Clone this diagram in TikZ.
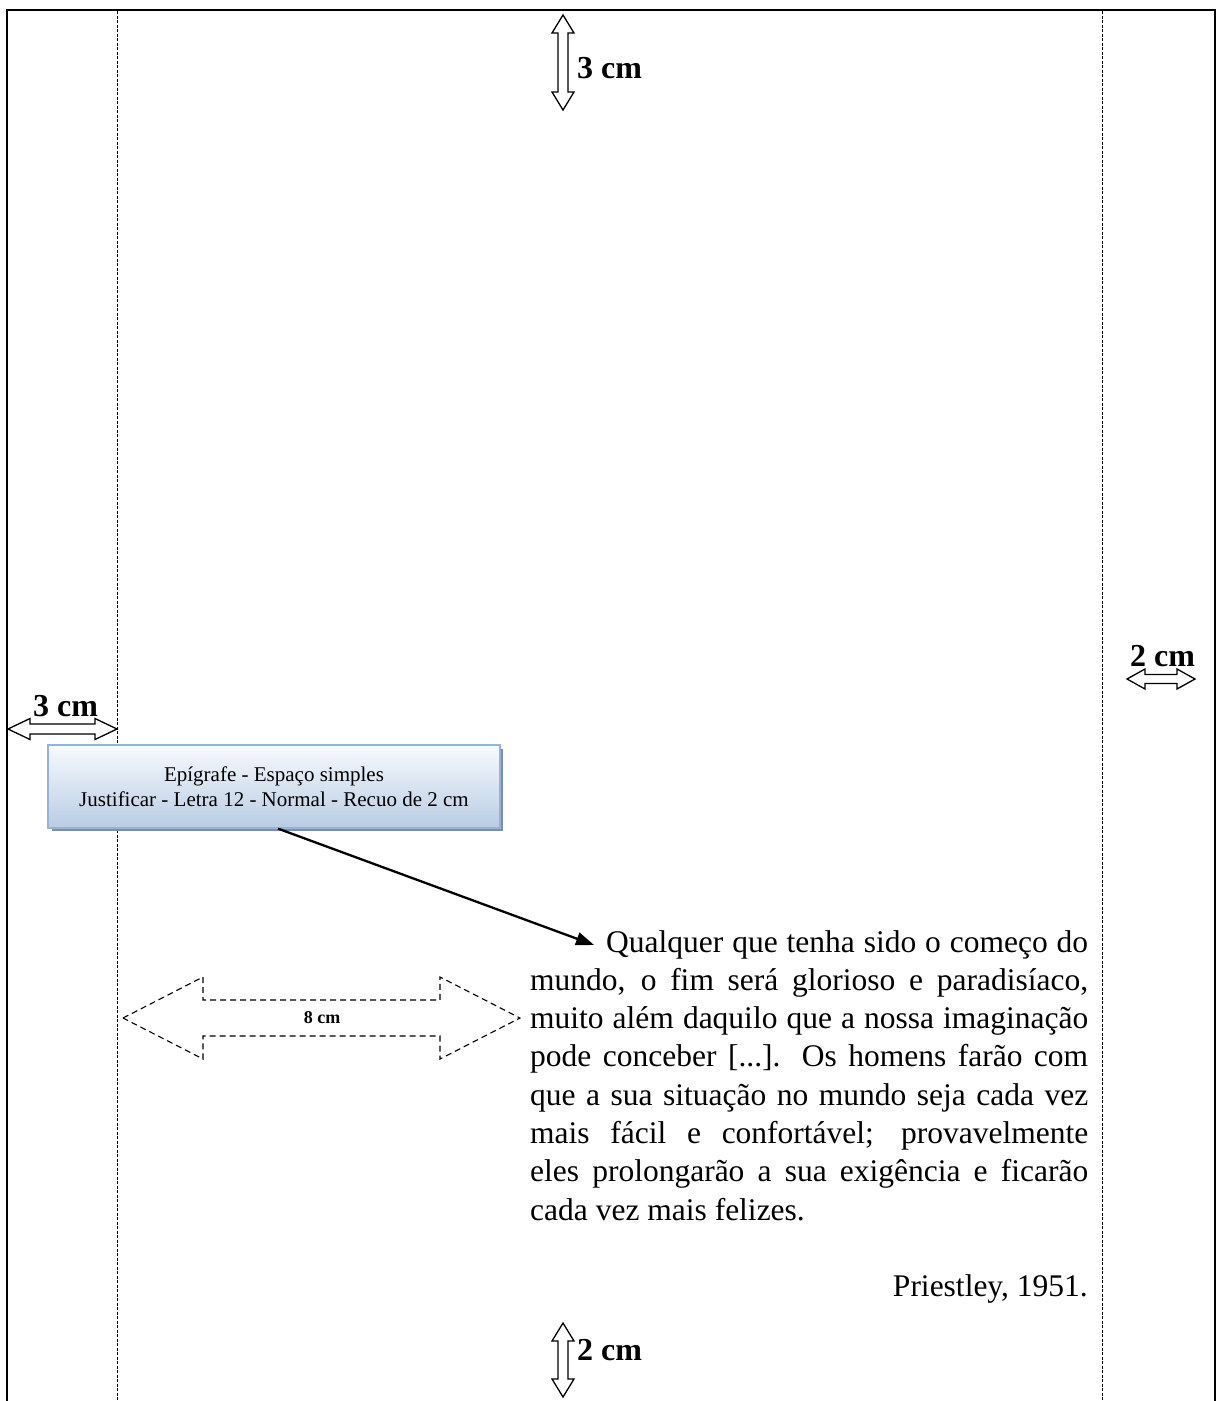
\documentclass[tikz,border=0pt]{standalone}
\usepackage{fontspec}
\setmainfont{Liberation Serif}
\usetikzlibrary{arrows.meta}
\definecolor{boxtop}{RGB}{248,250,253}
\definecolor{boxbot}{RGB}{184,204,228}
\definecolor{boxline}{RGB}{149,179,215}
\definecolor{boxshadow}{RGB}{125,142,170}
\begin{document}
\begin{tikzpicture}[x=1pt,y=-1pt,
  frame/.style={line width=2.4pt},
  guide/.style={line width=0.9pt, dash pattern=on 3pt off 1.5pt},
  hollow/.style={line width=1.3pt, fill=white, line join=miter},
  dashedhollow/.style={line width=1.1pt, dash pattern=on 6pt off 4pt, line join=miter},
  lbl/.style={font=\fontsize{32}{36}\selectfont\bfseries, inner sep=0pt, anchor=base west},
  small/.style={font=\fontsize{18}{20}\selectfont\bfseries, inner sep=0pt},
  body/.style={font=\fontsize{31.5}{38.3}\selectfont, inner sep=0pt, anchor=base west},
  epibox/.style={draw=boxline, line width=1.2pt, top color=boxtop, bottom color=boxbot,
    minimum width=452pt, minimum height=83pt, align=center, inner sep=0pt,
    font=\fontsize{21}{25}\selectfont},
  pointer/.style={line width=2.3pt, -{Triangle[length=18pt,width=13pt]}}
]
\useasboundingbox (0,0) rectangle (1216,1401);
\fill[white] (0,0) rectangle (1216,1401);
% page frame and margin guides
\draw[frame] (7,1402) -- (7,10) -- (1215,10) -- (1215,1402);
\draw[guide] (117,11) -- (117,1401);
\draw[guide] (1102,11) -- (1102,1401);

% top 3 cm
\draw[hollow] (563,15) -- (574,33) -- (568,33) -- (568,92) -- (574,92) -- (563,110) -- (552,92) -- (558,92) -- (558,33) -- (552,33) -- cycle;
\node[lbl] (top) at (577,78) {3 cm};

% bottom 2 cm
\draw[hollow] (563,1323) -- (574,1341) -- (568,1341) -- (568,1379) -- (574,1379) -- (563,1397) -- (552,1379) -- (558,1379) -- (558,1341) -- (552,1341) -- cycle;
\node[lbl] (bottom) at (577,1360) {2 cm};

% left 3 cm
\draw[hollow] (8,729) -- (30,718.5) -- (30,724) -- (95,724) -- (95,718.5) -- (117,729) -- (95,739.5) -- (95,734) -- (30,734) -- (30,739.5) -- cycle;
\node[lbl] (left) at (33,716) {3 cm};

% right 2 cm
\draw[hollow] (1127,679) -- (1145,669) -- (1145,674.5) -- (1177,674.5) -- (1177,669) -- (1195,679) -- (1177,689) -- (1177,683.5) -- (1145,683.5) -- (1145,689) -- cycle;
\node[lbl] (right) at (1130,666) {2 cm};

% epigraph box
\fill[boxshadow] (52,749) rectangle (503,831);
\node[epibox] (epi) at (274,786.5) {Epígrafe - Espaço simples\\Justificar - Letra 12 - Normal - Recuo de 2 cm};

% 8 cm dashed arrow
\draw[dashedhollow] (123,1018) -- (203,977) -- (203,1000) -- (440,1000) -- (440,977) -- (520,1018) -- (440,1059) -- (440,1036) -- (203,1036) -- (203,1059) -- cycle;
\node[small] (eight) at (322,1018) {8 cm};

% quotation
\node[body] (l1) at (606,952) {\makebox[482pt][s]{Qualquer que tenha sido o começo do}};
\node[body] (l2) at (530,990.3) {\makebox[558pt][s]{mundo, o fim será glorioso e paradisíaco,}};
\node[body] (l3) at (530,1028.6) {\makebox[558pt][s]{muito além daquilo que a nossa imaginação}};
\node[body] (l4) at (530,1066.9) {\makebox[558pt][s]{pode conceber [...]. Os homens farão com}};
\node[body] (l5) at (530,1105.2) {\makebox[558pt][s]{que a sua situação no mundo seja cada vez}};
\node[body] (l6) at (530,1143.5) {\makebox[558pt][s]{mais fácil e confortável; provavelmente}};
\node[body] (l7) at (530,1181.8) {\makebox[558pt][s]{eles prolongarão a sua exigência e ficarão}};
\node[body] (l8) at (530,1220.1) {cada vez mais felizes.};
\node[body, anchor=base east] (author) at (1088,1296.7) {Priestley, 1951.};

% pointer from box to quotation
\coordinate (tip) at (594,945);
\draw[pointer] ([xshift=4pt]epi.south) -- (tip);
\end{tikzpicture}
\end{document}
